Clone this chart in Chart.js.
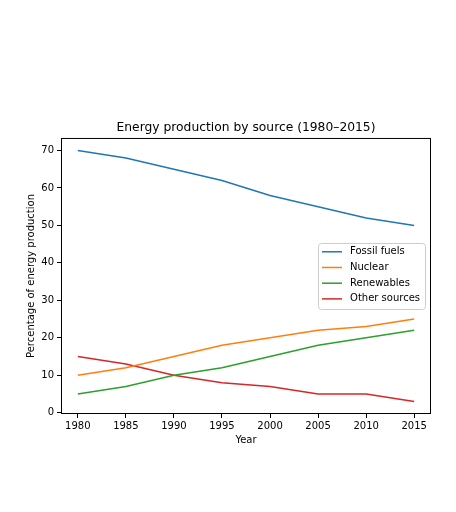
<!DOCTYPE html>
<html>
<head>
<meta charset="utf-8">
<script src="https://cdn.jsdelivr.net/npm/chart.js@4.4.0/dist/chart.umd.min.js"></script>
<style>
  html, body { margin: 0; padding: 0; background: #fff; }
  #wrap { width: 456px; height: 512px; }
</style>
</head>
<body>
<div id="wrap"><canvas id="c" width="456" height="512"></canvas></div>
<script>
const years = [1980, 1985, 1990, 1995, 2000, 2005, 2010, 2015];
const fossilFuels = [70, 68, 65, 62, 58, 55, 52, 50];
const nuclear = [10, 12, 15, 18, 20, 22, 23, 25];
const renewables = [5, 7, 10, 12, 15, 18, 20, 22];
const otherSources = [15, 13, 10, 8, 7, 5, 5, 3];
const seriesNames = ['Fossil fuels', 'Nuclear', 'Renewables', 'Other sources'];
const yTicks = [0, 10, 20, 30, 40, 50, 60, 70];
const xTicks = years;

const colors = ['#1f77b4', '#ff7f0e', '#2ca02c', '#d62728'];
const FONT = "'DejaVu Sans', sans-serif";

function pts(vals) { return years.map((y, i) => ({ x: y, y: vals[i] })); }

const allSeries = [fossilFuels, nuclear, renewables, otherSources];

const frame = {
  id: 'frame',
  afterDatasetsDraw(chart) {
    const { ctx, chartArea: a } = chart;
    ctx.save();
    ctx.strokeStyle = '#000';
    ctx.lineWidth = 1;
    ctx.strokeRect(a.left + 0.5, a.top + 0.5, a.right - a.left - 1, a.bottom - a.top - 1);
    ctx.restore();
  }
};

const innerLegend = {
  id: 'innerLegend',
  afterDraw(chart) {
    const { ctx, chartArea: a } = chart;
    ctx.save();
    ctx.font = '10px ' + FONT;
    const labels = chart.data.datasets.map(d => d.label);
    const maxW = Math.max(...labels.map(l => ctx.measureText(l).width));
    const w = 4 + 20 + 8 + maxW + 5;
    const h = 66;
    const x = a.right - 6 - w;
    const y = (a.top + a.bottom) / 2 - h / 2;
    ctx.beginPath();
    ctx.roundRect(x + 0.5, y + 0.5, w, h, 3);
    ctx.fillStyle = 'rgba(255,255,255,0.8)';
    ctx.fill();
    ctx.strokeStyle = '#cccccc';
    ctx.lineWidth = 1;
    ctx.stroke();
    chart.data.datasets.forEach((d, i) => {
      const cy = y + 8.8 + i * 15.7;
      ctx.beginPath();
      ctx.strokeStyle = d.borderColor;
      ctx.lineWidth = 1.5;
      ctx.moveTo(x + 4, cy);
      ctx.lineTo(x + 24, cy);
      ctx.stroke();
      ctx.fillStyle = '#000';
      ctx.textBaseline = 'middle';
      ctx.textAlign = 'left';
      ctx.fillText(d.label, x + 32, cy);
    });
    ctx.restore();
  }
};

new Chart(document.getElementById('c'), {
  type: 'line',
  data: {
    datasets: allSeries.map((s, i) => ({
      label: seriesNames[i],
      data: pts(s),
      borderColor: colors[i],
      backgroundColor: colors[i],
      borderWidth: 1.5,
      pointRadius: 0,
      tension: 0,
      fill: false
    }))
  },
  options: {
    responsive: false,
    animation: false,
    devicePixelRatio: 1,
    layout: { padding: { left: 0, right: 25, top: 0, bottom: 58 } },
    plugins: {
      legend: { display: false },
      tooltip: { enabled: false },
      title: {
        display: true,
        fullSize: false,
        text: 'Energy production by source (1980–2015)',
        color: '#000',
        font: { family: FONT, size: 12.3, weight: 'normal', lineHeight: 1.2 },
        padding: { top: 120, bottom: 3.2 }
      }
    },
    scales: {
      x: {
        type: 'linear',
        min: 1978.25,
        max: 2016.75,
        afterBuildTicks(scale) { scale.ticks = xTicks.map(v => ({ value: v })); },
        afterFit(scale) { scale.height = 40; },
        grid: { drawOnChartArea: false, drawTicks: true, tickLength: 4, color: '#000', tickWidth: 1 },
        border: { display: false },
        ticks: { color: '#000', font: { family: FONT, size: 10 }, padding: 2, maxRotation: 0, autoSkip: false, callback: v => String(v) },
        title: { display: true, text: 'Year', color: '#000', font: { family: FONT, size: 10 }, padding: { top: 0, bottom: 8 } }
      },
      y: {
        type: 'linear',
        min: -0.35,
        max: 73.35,
        afterBuildTicks(scale) { scale.ticks = yTicks.map(v => ({ value: v })); },
        afterFit(scale) { scale.width = 61; },
        grid: { drawOnChartArea: false, drawTicks: true, tickLength: 4, color: '#000', tickWidth: 1 },
        border: { display: false },
        ticks: { color: '#000', font: { family: FONT, size: 10 }, padding: 3, autoSkip: false, callback: v => String(v) },
        title: { display: true, text: 'Percentage of energy production', color: '#000', font: { family: FONT, size: 10 }, padding: { top: 25, bottom: 0 } }
      }
    }
  },
  plugins: [frame, innerLegend]
});
</script>
</body>
</html>
